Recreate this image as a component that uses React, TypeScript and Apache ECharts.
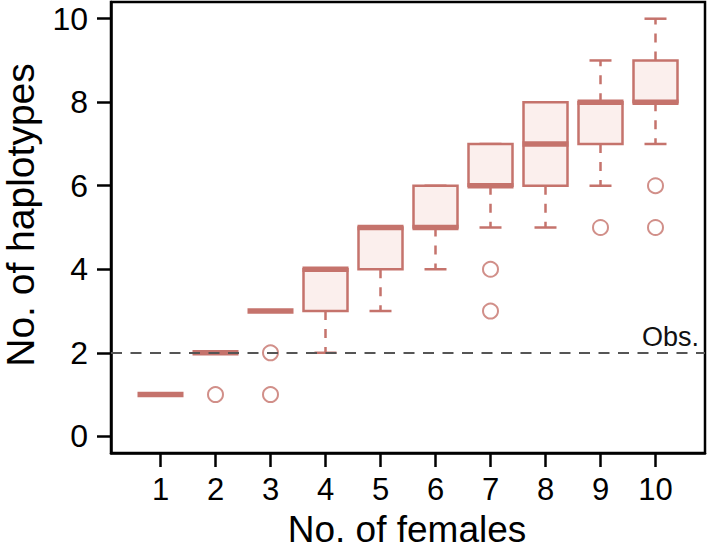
import React, { useEffect, useRef } from "react";
import * as echarts from "echarts";

// ---- data ----
const females = [1, 2, 3, 4, 5, 6, 7, 8, 9, 10];
const whiskerLow = [1, 2, 3, 2, 3, 4, 5, 5, 6, 7];
const q1 = [1, 2, 3, 3, 4, 5, 6, 6, 7, 8];
const median = [1, 2, 3, 4, 5, 5, 6, 7, 8, 8];
const q3 = [1, 2, 3, 4, 5, 6, 7, 8, 8, 9];
const whiskerHigh = [1, 2, 3, 4, 5, 6, 7, 8, 9, 10];
const outlierX = [2, 3, 3, 7, 7, 9, 10, 10];
const outlierY = [1, 2, 1, 4, 3, 5, 6, 5];
const observed = 2;
const xTicks = [1, 2, 3, 4, 5, 6, 7, 8, 9, 10];
const yTicks = [0, 2, 4, 6, 8, 10];

const BOX = "#c5736c";
const FILL = "#fbefed";
const FONT = "'Liberation Sans', Arial, sans-serif";

export default function App() {
  const ref = useRef<HTMLDivElement>(null);
  useEffect(() => {
    if (!ref.current) return;
    const chart = echarts.init(ref.current, undefined, { renderer: "svg" });
    const boxData = females.map((f, i) => [f, whiskerLow[i], q1[i], median[i], q3[i], whiskerHigh[i]]);
    const outData = outlierX.map((x, i) => [x, outlierY[i]]);
    const axisCommon = {
      type: "value",
      splitLine: { show: false },
      axisLine: { show: true, onZero: false, lineStyle: { color: "#000", width: 2.5 } },
    };
    chart.setOption({
      animation: false,
      backgroundColor: "#ffffff",
      grid: {
        left: 111,
        right: 2,
        top: 2,
        bottom: 99,
        show: true,
        borderColor: "#000",
        borderWidth: 2.5,
        backgroundColor: "transparent",
      },
      xAxis: {
        ...axisCommon,
        min: 0.1,
        max: 10.9,
        axisTick: {
          show: true,
          inside: false,
          customValues: xTicks,
          length: 14,
          lineStyle: { color: "#000", width: 2.5 },
        },
        axisLabel: {
          show: true,
          customValues: xTicks,
          fontSize: 31,
          color: "#000",
          fontFamily: FONT,
          margin: 21,
        },
      },
      yAxis: {
        ...axisCommon,
        min: -0.4,
        max: 10.4,
        axisTick: {
          show: true,
          inside: false,
          customValues: yTicks,
          length: 14,
          lineStyle: { color: "#000", width: 2.5 },
        },
        axisLabel: {
          show: true,
          customValues: yTicks,
          fontSize: 32,
          color: "#000",
          fontFamily: FONT,
          margin: 23,
        },
      },
      graphic: [
        {
          type: "text",
          x: 407,
          y: 529,
          style: {
            text: "No. of females",
            font: `37px ${FONT}`,
            fill: "#000",
            textAlign: "center",
            textVerticalAlign: "middle",
          },
        },
        {
          type: "text",
          x: 20,
          y: 215,
          rotation: Math.PI / 2,
          style: {
            text: "No. of haplotypes",
            font: `39px ${FONT}`,
            fill: "#000",
            textAlign: "center",
            textVerticalAlign: "middle",
          },
        },
        {
          type: "text",
          x: 699,
          y: 350,
          z: 10,
          style: {
            text: "Obs.",
            font: `27px ${FONT}`,
            fill: "#111",
            textAlign: "right",
            textVerticalAlign: "bottom",
          },
        },
      ],
      series: [
        {
          type: "custom",
          z: 2,
          data: boxData,
          encode: { x: 0, y: [1, 2, 3, 4, 5] },
          renderItem: (params: any, api: any) => {
            const x = api.value(0);
            const lo = api.value(1);
            const a = api.value(2);
            const m = api.value(3);
            const b = api.value(4);
            const hi = api.value(5);
            const w = api.size([0.8, 0])[0];
            const sw = api.size([0.4, 0])[0];
            const cx = api.coord([x, lo])[0];
            const yLo = api.coord([x, lo])[1];
            const yA = api.coord([x, a])[1];
            const yM = api.coord([x, m])[1];
            const yB = api.coord([x, b])[1];
            const yHi = api.coord([x, hi])[1];
            const dash = { stroke: BOX, lineWidth: 2.5, lineDash: [9, 9] };
            const solid = { stroke: BOX, lineWidth: 2.5 };
            return {
              type: "group",
              children: [
                { type: "line", shape: { x1: cx, y1: yA, x2: cx, y2: yLo }, style: dash },
                { type: "line", shape: { x1: cx, y1: yB, x2: cx, y2: yHi }, style: dash },
                { type: "line", shape: { x1: cx - sw / 2, y1: yLo, x2: cx + sw / 2, y2: yLo }, style: solid },
                { type: "line", shape: { x1: cx - sw / 2, y1: yHi, x2: cx + sw / 2, y2: yHi }, style: solid },
                {
                  type: "rect",
                  shape: { x: cx - w / 2, y: yB, width: w, height: yA - yB },
                  style: { fill: FILL, stroke: BOX, lineWidth: 2.5 },
                },
                {
                  type: "line",
                  shape: { x1: cx - w / 2 - 1, y1: yM, x2: cx + w / 2 + 1, y2: yM },
                  style: { stroke: BOX, lineWidth: 5.5 },
                },
              ],
            };
          },
        },
        {
          type: "scatter",
          z: 3,
          data: outData,
          symbol: "emptyCircle",
          symbolSize: 15,
          itemStyle: { color: BOX, borderColor: BOX, borderWidth: 2.2 },
          markLine: {
            silent: true,
            symbol: "none",
            z: 5,
            label: { show: false },
            lineStyle: { color: "#555", width: 2.2, type: [11, 8.5] },
            data: [{ yAxis: observed }],
          },
        },
      ],
    });
    return () => chart.dispose();
  }, []);
  return (
    <div
      ref={ref}
      style={{ position: "fixed", left: 0, top: 0, width: 707, height: 552, background: "#fff" }}
    />
  );
}
